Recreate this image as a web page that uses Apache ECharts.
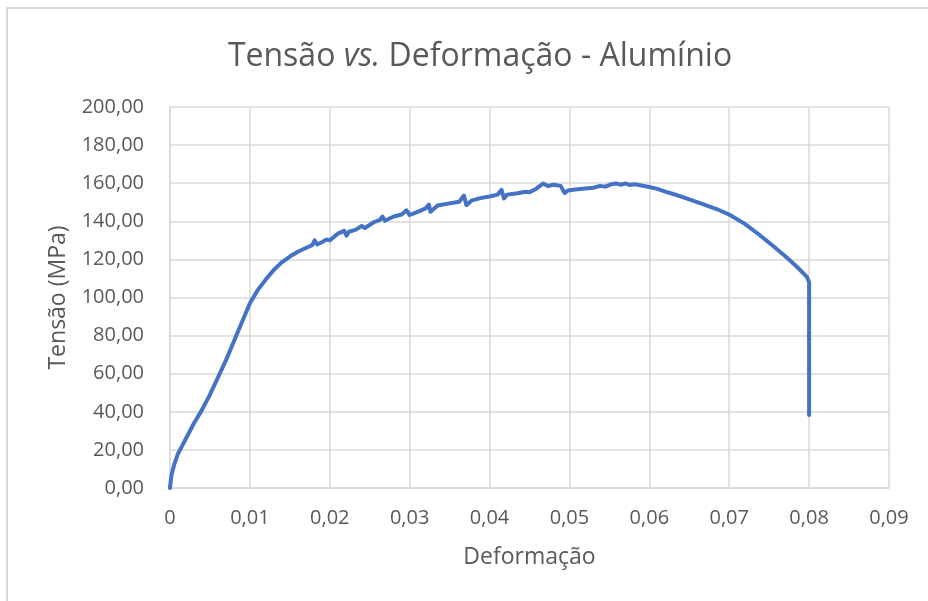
<!DOCTYPE html>
<html>
<head>
<meta charset="utf-8">
<script src="https://cdn.jsdelivr.net/npm/echarts@6/dist/echarts.min.js"></script>
<style>
  html, body { margin: 0; padding: 0; background: #fff; }
  #frame { position: absolute; left: 6px; top: 7px; width: 940px; height: 620px; border: 2px solid #d9d9d9; box-sizing: border-box; }
  #chart { position: absolute; left: 0; top: 0; width: 928px; height: 601px; }
</style>
</head>
<body>
<div id="frame"></div>
<div id="chart"></div>
<script>
// Tensile test of an aluminium specimen: strain (mm/mm) and stress (MPa)
const strain = [
  0, 0.0001, 0.0002, 0.0005, 0.0010, 0.0015, 0.0020, 0.0030, 0.0040, 0.0050,
  0.0060, 0.0070, 0.0080, 0.0090, 0.0100, 0.0110, 0.0120, 0.0130, 0.0140, 0.0150,
  0.0160, 0.0170, 0.0178, 0.0181, 0.0184, 0.0190, 0.0196, 0.0200, 0.0210, 0.0218,
  0.0221, 0.0224, 0.0232, 0.0240, 0.0244, 0.0255, 0.0263, 0.0266, 0.0269, 0.0280,
  0.0290, 0.0296, 0.0300, 0.0310, 0.0320, 0.0324, 0.0326, 0.0335, 0.0350, 0.0362,
  0.0368, 0.0371, 0.0378, 0.0390, 0.0400, 0.0410, 0.0415, 0.0418, 0.0422, 0.0435,
  0.0445, 0.0450, 0.0458, 0.0467, 0.0473, 0.0480, 0.0489, 0.0494, 0.0498, 0.0510,
  0.0520, 0.0530, 0.0538, 0.0545, 0.0552, 0.0559, 0.0565, 0.0570, 0.0575, 0.0582,
  0.0590, 0.0600, 0.0610, 0.0620, 0.0634, 0.0650, 0.0667, 0.0685, 0.0701, 0.0720,
  0.0738, 0.0755, 0.0772, 0.0785, 0.0797, 0.0800, 0.0800
];
const stress = [
  0, 4, 7, 12, 18, 22, 26, 34, 41, 49,
  58, 67, 77, 87, 97, 104, 109.5, 114.5, 118.5, 121.5,
  124, 126, 127.5, 130, 127.8, 129, 130.5, 130, 133.5, 135,
  132.5, 134.5, 135.5, 137.5, 136.5, 139.5, 140.8, 142.5, 140.3, 142.5,
  143.6, 145.8, 143.3, 145, 146.8, 148.8, 145, 148.3, 149.4, 150.3,
  153.5, 148.5, 151, 152.3, 153, 154, 156.5, 152, 154, 154.7,
  155.5, 155.2, 157, 159.8, 158.5, 159.2, 158.6, 154.8, 156.2, 156.8,
  157.2, 157.6, 158.6, 158.2, 159.4, 159.8, 159.2, 159.9, 159.1, 159.4,
  158.8, 158, 157, 155.6, 153.8, 151.5, 149, 146.3, 143.3, 138.5,
  132.8, 127, 121, 116, 111, 108, 38.3
];
const xTicks = [0, 0.01, 0.02, 0.03, 0.04, 0.05, 0.06, 0.07, 0.08, 0.09];
const yTicks = [0, 20, 40, 60, 80, 100, 120, 140, 160, 180, 200];

const points = strain.map((s, i) => [s, stress[i]]);
const FONT = '"Open Sans", "DejaVu Sans", sans-serif';
const GRAY = '#595959';
const GRID = '#d9d9d9';

const chart = echarts.init(document.getElementById('chart'), null, { renderer: 'canvas' });
chart.setOption({
  animation: false,
  backgroundColor: 'transparent',
  title: {
    text: 'Tensão {i|vs.} Deformação - Alumínio',
    left: 475,
    top: 36,
    textAlign: 'center',
    textStyle: {
      fontFamily: FONT,
      fontSize: 32,
      fontWeight: 'normal',
      color: GRAY,
      rich: {
        i: { fontFamily: FONT, fontSize: 32, fontStyle: 'italic', color: GRAY }
      }
    }
  },
  grid: { left: 170, top: 107, right: 39, bottom: 113, containLabel: false },
  xAxis: {
    type: 'value',
    min: xTicks[0],
    max: xTicks[xTicks.length - 1],
    interval: 0.01,
    name: 'Deformação',
    nameLocation: 'middle',
    nameGap: 58,
    nameTextStyle: { fontFamily: FONT, fontSize: 23, color: GRAY },
    axisLine: { show: true, lineStyle: { color: GRID, width: 1.5 } },
    axisTick: { show: false },
    axisLabel: {
      fontFamily: FONT, fontSize: 20, color: GRAY, margin: 20,
      formatter: v => (Math.round(v * 100) / 100).toString().replace('.', ',')
    },
    splitLine: { show: true, lineStyle: { color: GRID, width: 1.5 } }
  },
  yAxis: {
    type: 'value',
    min: yTicks[0],
    max: yTicks[yTicks.length - 1],
    interval: 20,
    name: 'Tensão (MPa)',
    nameLocation: 'middle',
    nameGap: 100,
    nameRotate: 90,
    nameTextStyle: { fontFamily: FONT, fontSize: 23, color: GRAY },
    axisLine: { show: true, lineStyle: { color: GRID, width: 1.5 } },
    axisTick: { show: false },
    axisLabel: {
      fontFamily: FONT, fontSize: 20, color: GRAY, margin: 26,
      formatter: v => v.toFixed(2).replace('.', ',')
    },
    splitLine: { show: true, lineStyle: { color: GRID, width: 1.5 } }
  },
  series: [{
    type: 'line',
    data: points,
    showSymbol: false,
    smooth: false,
    lineStyle: { color: '#4472C4', width: 4, cap: 'round', join: 'round' },
    itemStyle: { color: '#4472C4' }
  }]
});
</script>
</body>
</html>
